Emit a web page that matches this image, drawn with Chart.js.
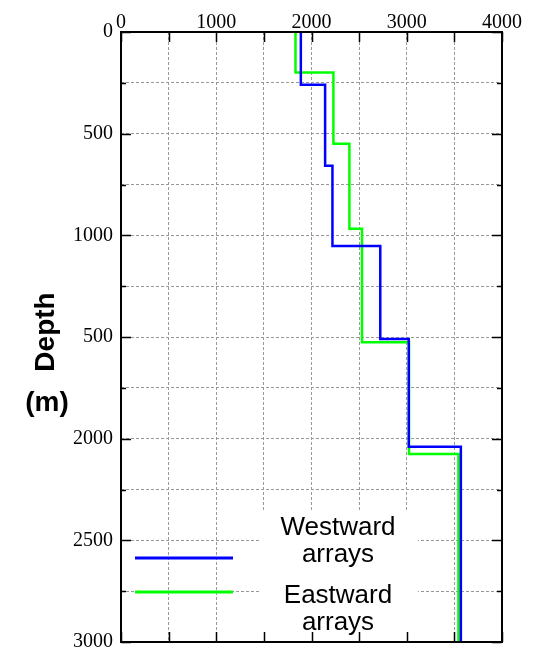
<!DOCTYPE html>
<html>
<head>
<meta charset="utf-8">
<script src="https://cdn.jsdelivr.net/npm/chart.js@4/dist/chart.umd.min.js"></script>
<style>
html,body{margin:0;padding:0;background:#fff;}
canvas{display:block;}
</style>
</head>
<body>
<canvas id="c" width="538" height="651"></canvas>
<script>
// ---- data ----
const westDepths = [0, 260, 658, 1052, 1510, 2040, 3000];
const westVelocity = [1888, 2143, 2220, 2722, 3021, 3568];
const eastDepths = [0, 199, 550, 968, 1526, 2076, 3000];
const eastVelocity = [1832, 2230, 2398, 2530, 3024, 3543];
const seriesNames = [['Westward', 'arrays'], ['Eastward', 'arrays']];
const xTickValues = [0, 1000, 2000, 3000, 4000];
const xTickLabels = ['0', '1000', '2000', '3000', '4000'];
const yTickValues = [0, 500, 1000, 1500, 2000, 2500, 3000];
const yTickLabels = ['0', '500', '1000', '500', '2000', '2500', '3000'];
const yTitle = 'Depth';
const yUnit = '(m)';

function stepPoints(vel, dep) {
  const pts = [];
  for (let i = 0; i < vel.length; i++) {
    pts.push({x: vel[i], y: dep[i]});
    pts.push({x: vel[i], y: dep[i + 1]});
  }
  return pts;
}

const BLUE = '#0000ff', GREEN = '#00ff00';

const decor = {
  id: 'decor',
  beforeDatasetsDraw(chart) {
    const ctx = chart.ctx;
    ctx.save();
    ctx.fillStyle = '#fff';
    ctx.fillRect(259, 510, 159, 131);
    ctx.restore();
  },
  afterDatasetsDraw(chart) {
    const ctx = chart.ctx, a = chart.chartArea;
    const xs = chart.scales.x, ys = chart.scales.y;
    ctx.save();
    ctx.strokeStyle = '#000';
    ctx.lineWidth = 1.5;
    ctx.beginPath();
    xs.ticks.forEach(t => {
      const px = Math.round(xs.getPixelForValue(t.value)) + 0.5;
      ctx.moveTo(px, a.top); ctx.lineTo(px, a.top + 10);
      ctx.moveTo(px, a.bottom); ctx.lineTo(px, a.bottom - 10);
    });
    ys.ticks.forEach(t => {
      const py = Math.round(ys.getPixelForValue(t.value)) + 0.5;
      const len = (t.value % 500 === 0) ? 10 : 5;
      ctx.moveTo(a.left, py); ctx.lineTo(a.left + len, py);
      ctx.moveTo(a.right, py); ctx.lineTo(a.right - len, py);
    });
    ctx.stroke();
    ctx.lineWidth = 2;
    ctx.strokeRect(a.left, a.top, a.right - a.left, a.bottom - a.top);
    ctx.restore();
  },
  afterDraw(chart) {
    const ctx = chart.ctx;
    ctx.save();
    // legend lines
    ctx.lineWidth = 3;
    ctx.strokeStyle = BLUE;
    ctx.beginPath(); ctx.moveTo(135, 558); ctx.lineTo(233, 558); ctx.stroke();
    ctx.strokeStyle = GREEN;
    ctx.beginPath(); ctx.moveTo(135, 592); ctx.lineTo(233, 592); ctx.stroke();
    // legend text
    ctx.fillStyle = '#000';
    ctx.font = '26px "Liberation Sans", Arial, sans-serif';
    ctx.textAlign = 'center';
    ctx.textBaseline = 'alphabetic';
    ctx.fillText(seriesNames[0][0], 338, 535);
    ctx.fillText(seriesNames[0][1], 338, 562);
    ctx.fillText(seriesNames[1][0], 338, 603);
    ctx.fillText(seriesNames[1][1], 338, 630);
    // axis title
    ctx.font = 'bold 28px "Liberation Sans", Arial, sans-serif';
    ctx.save();
    ctx.translate(54, 332);
    ctx.rotate(-Math.PI / 2);
    ctx.textAlign = 'center';
    ctx.fillText(yTitle, 0, 0);
    ctx.restore();
    ctx.textAlign = 'center';
    ctx.fillText(yUnit, 47, 411);
    ctx.restore();
  }
};

new Chart(document.getElementById('c'), {
  type: 'line',
  data: {
    datasets: [
      {label: 'Westward arrays', data: stepPoints(westVelocity, westDepths), borderColor: BLUE, order: 1},
      {label: 'Eastward arrays', data: stepPoints(eastVelocity, eastDepths), borderColor: GREEN, order: 2}
    ]
  },
  options: {
    responsive: false,
    animation: false,
    devicePixelRatio: 1,
    layout: {padding: {left: 0, right: 36, top: 0, bottom: 9}},
    elements: {
      line: {borderWidth: 2.5, tension: 0, fill: false},
      point: {radius: 0, hoverRadius: 0}
    },
    plugins: {legend: {display: false}, tooltip: {enabled: false}},
    scales: {
      x: {
        type: 'linear', position: 'top', min: 0, max: 4000,
        afterFit(s) { s.height = 32; s.paddingLeft = 0; s.paddingRight = 0; },
        grid: {color: '#999', lineWidth: 1, drawTicks: false},
        border: {display: false, dash: [3, 2]},
        ticks: {
          stepSize: 500, padding: -3, color: '#000', maxRotation: 0, autoSkip: false,
          font: {family: '"Liberation Serif", "Times New Roman", serif', size: 20},
          callback(v) { const i = xTickValues.indexOf(v); return i >= 0 ? xTickLabels[i] : ''; }
        }
      },
      y: {
        type: 'linear', reverse: true, min: 0, max: 3000,
        afterFit(s) { s.width = 121; s.paddingTop = 0; s.paddingBottom = 0; },
        grid: {color: '#999', lineWidth: 1, drawTicks: false},
        border: {display: false, dash: [3, 2]},
        ticks: {
          stepSize: 250, padding: 8, color: '#000', autoSkip: false,
          font: {family: '"Liberation Serif", "Times New Roman", serif', size: 20},
          callback(v) { const i = yTickValues.indexOf(v); return i >= 0 ? yTickLabels[i] : ''; }
        }
      }
    }
  },
  plugins: [decor]
});
</script>
</body>
</html>
